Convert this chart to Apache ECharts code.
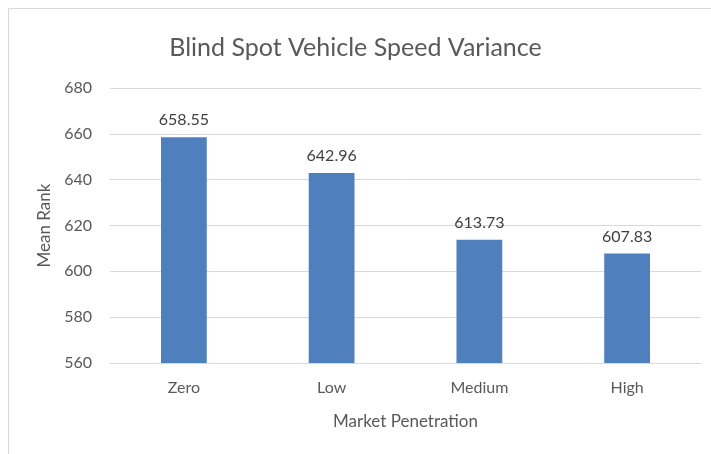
<!DOCTYPE html>
<html>
<head>
<meta charset="utf-8">
<script src="https://cdn.jsdelivr.net/npm/echarts@6/dist/echarts.min.js"></script>
<style>
  html, body { margin: 0; padding: 0; background: #fff; }
  #chart { width: 711px; height: 454px; }
</style>
</head>
<body>
<div id="chart"></div>
<script>
// data
var categories = ['Zero', 'Low', 'Medium', 'High']
var meanRank = [658.55, 642.96, 613.73, 607.83]
var yTicks = { min: 560, max: 680, step: 20 }

var font = 'Lato, "Open Sans", sans-serif'
var myChart = echarts.init(document.getElementById('chart'))

var option = {
  animation: false,
  textStyle: { fontFamily: font },
  title: {
    text: 'Blind Spot Vehicle Speed Variance',
    left: 'center',
    top: 30,
    textStyle: {
      fontFamily: font,
      fontSize: 25,
      fontWeight: 'normal',
      color: '#595959'
    }
  },
  // chart frame like the excel export
  graphic: [{
    type: 'rect',
    shape: { x: 8.5, y: 8.5, width: 740, height: 480 },
    style: { fill: 'none', stroke: '#d9d9d9', lineWidth: 1 },
    silent: true
  }],
  grid: {
    left: 110,
    right: 10,
    top: 88,
    bottom: 91
  },
  xAxis: {
    type: 'category',
    data: categories,
    name: 'Market Penetration',
    nameLocation: 'middle',
    nameGap: 50,
    nameTextStyle: { fontFamily: font, fontSize: 17, color: '#595959' },
    axisTick: { show: false },
    axisLine: { lineStyle: { color: '#d9d9d9', width: 1 } },
    axisLabel: { margin: 17, fontFamily: font, fontSize: 16, color: '#595959' }
  },
  yAxis: {
    type: 'value',
    min: yTicks.min,
    max: yTicks.max,
    interval: yTicks.step,
    name: 'Mean Rank',
    nameLocation: 'middle',
    nameGap: 56,
    nameTextStyle: { fontFamily: font, fontSize: 17, color: '#595959' },
    axisLine: { show: false },
    axisTick: { show: false },
    axisLabel: { margin: 18, fontFamily: font, fontSize: 16, color: '#595959' },
    splitLine: { lineStyle: { color: '#d9d9d9', width: 1 } }
  },
  series: [{
    type: 'bar',
    data: meanRank,
    barWidth: '31%',
    itemStyle: { color: '#4f80bd' },
    label: {
      show: true,
      position: 'top',
      distance: 9,
      fontFamily: font,
      fontSize: 16,
      color: '#404040',
      formatter: function (p) { return p.value.toFixed(2) }
    }
  }]
}
myChart.setOption(option)
</script>
</body>
</html>
